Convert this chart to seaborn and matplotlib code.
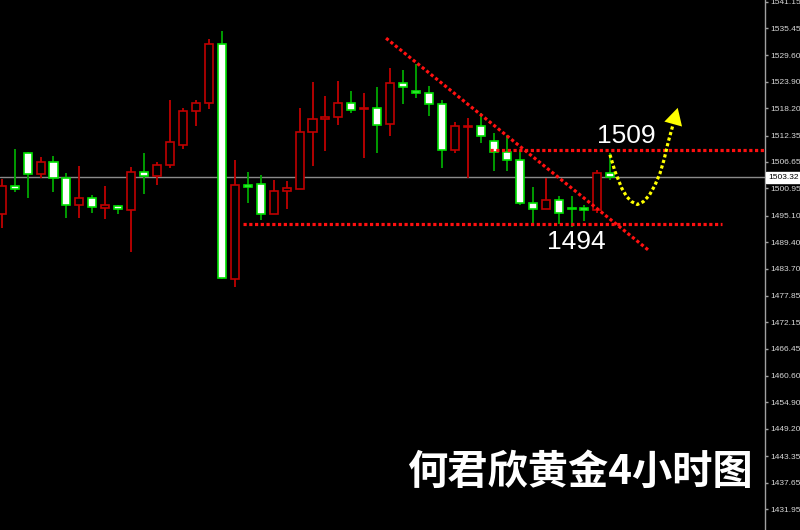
import numpy as np
import pandas as pd
import matplotlib
matplotlib.use("Agg")
import matplotlib.pyplot as plt
import matplotlib.transforms as mtransforms
import seaborn as sns

# 4h gold candles (left to right)
opens = [1495.4, 1501.5, 1508.6, 1504.0, 1506.6, 1503.2, 1497.4, 1498.8, 1496.7, 1497.1,
         1496.4, 1504.4, 1503.6, 1506.1, 1510.3, 1517.6, 1519.3, 1532.0, 1481.4, 1501.6,
         1502.0, 1495.5, 1500.5, 1500.8, 1513.0, 1515.8, 1516.4, 1519.4, 1518.0, 1518.3,
         1514.8, 1523.7, 1522.0, 1521.6, 1519.2, 1509.3, 1514.2, 1514.3, 1511.2, 1508.9,
         1507.0, 1497.8, 1496.6, 1498.4, 1496.8, 1496.8, 1496.3, 1504.2]
highs = [1502.9, 1509.4, 1508.8, 1507.7, 1507.9, 1504.3, 1505.8, 1499.5, 1501.5, 1497.4,
         1505.5, 1508.5, 1506.6, 1520.1, 1518.2, 1520.0, 1533.1, 1534.8, 1507.1, 1504.4,
         1503.9, 1502.7, 1502.5, 1518.2, 1523.9, 1520.8, 1524.1, 1521.9, 1521.5, 1522.7,
         1526.8, 1526.4, 1527.7, 1522.9, 1520.0, 1515.2, 1516.1, 1517.1, 1512.8, 1512.5,
         1509.2, 1501.2, 1503.3, 1499.3, 1499.3, 1497.3, 1504.9, 1508.5]
lows = [1492.5, 1500.2, 1499.0, 1503.3, 1500.2, 1494.6, 1494.7, 1495.7, 1494.4, 1495.5,
        1487.3, 1499.7, 1501.6, 1505.4, 1509.4, 1514.5, 1518.0, 1481.5, 1479.8, 1497.9,
        1494.2, 1495.5, 1496.5, 1500.8, 1505.7, 1509.1, 1514.6, 1517.2, 1507.6, 1508.6,
        1512.2, 1519.1, 1520.5, 1516.5, 1505.4, 1508.5, 1503.3, 1510.8, 1504.8, 1504.8,
        1497.4, 1493.3, 1496.6, 1493.4, 1492.7, 1494.0, 1495.6, 1502.8]
closes = [1501.5, 1500.9, 1504.0, 1506.6, 1503.1, 1497.4, 1498.8, 1496.9, 1497.3, 1496.5,
          1504.4, 1503.6, 1506.1, 1510.9, 1517.6, 1519.3, 1532.0, 1481.6, 1501.6, 1501.3,
          1495.5, 1500.5, 1501.0, 1513.1, 1515.8, 1516.3, 1519.4, 1517.9, 1518.3, 1514.7,
          1523.7, 1522.8, 1521.6, 1519.2, 1509.3, 1514.3, 1514.4, 1512.2, 1508.9, 1507.0,
          1497.8, 1496.6, 1498.5, 1495.7, 1496.6, 1496.4, 1504.2, 1503.32]

price_ticks = [1541.15, 1535.45, 1529.60, 1523.90, 1518.20, 1512.35, 1506.65, 1500.95,
               1495.10, 1489.40, 1483.70, 1477.85, 1472.15, 1466.45, 1460.60, 1454.90,
               1449.20, 1443.35, 1437.65, 1431.95]
last_price = 1503.32

# hand drawn analysis lines (bar index, price)
trend_x = [29.68, 49.93]
trend_y = [1533.3, 1487.7]
resist_x = [37.7, 58.94]
resist_y = [1509.2, 1509.2]
support_x = [18.6, 55.6]
support_y = [1493.3, 1493.3]
curve_x = [46.97, 47.36, 47.88, 48.26, 48.65, 49.08, 49.54, 50.01, 50.45, 50.83, 51.14, 51.47, 51.85]
curve_y = [1508.2, 1504.6, 1501.0, 1499.2, 1498.1, 1497.5, 1498.1, 1499.5, 1501.7, 1504.2, 1507.1, 1511.0, 1514.8]
arrow_tip = (52.2, 1518.3)

df = pd.DataFrame({"open": opens, "high": highs, "low": lows, "close": closes})
df["idx"] = np.arange(len(df))
df["up"] = df["close"] > df["open"]

sns.set_style("dark", rc={"axes.facecolor": "black", "figure.facecolor": "black",
                          "axes.grid": False})
plt.rcParams["font.family"] = ["Liberation Sans", "Noto Sans CJK SC", "DejaVu Sans"]

fig = plt.figure(figsize=(8, 5.3), dpi=100)
ax = fig.add_axes([0, 0, 765 / 800, 1])
ax.set_facecolor("black")

red = "#c00000"
wick_green = "#00a800"
edge_green = "#00e000"

# wicks
ax.vlines(df["idx"], df["low"], df["high"],
          colors=np.where(df["up"], red, wick_green), linewidth=1.3, zorder=2)

# bodies
body_lo = np.minimum(df["open"], df["close"])
body_h = np.maximum(np.abs(df["close"] - df["open"]), 0.25)
ax.bar(df["idx"], body_h, bottom=body_lo, width=0.62,
       color=np.where(df["up"], "black", "white"),
       edgecolor=np.where(df["up"], red, edge_green), linewidth=1.2, zorder=3)

# current price line
ax.axhline(last_price, color="#8a8a8a", linewidth=1, zorder=1)

dots = (0, (1, 0.8))
sns.lineplot(x=trend_x, y=trend_y, color="#ff1010", linewidth=2.3, linestyle=dots, ax=ax, zorder=4)
sns.lineplot(x=resist_x, y=resist_y, color="#ff1010", linewidth=2.3, linestyle=dots, ax=ax, zorder=4)
sns.lineplot(x=support_x, y=support_y, color="#ff1010", linewidth=2.3, linestyle=dots, ax=ax, zorder=4)
sns.lineplot(x=curve_x, y=curve_y, color="#ffff00", linewidth=2.3, linestyle=dots,
             sort=False, estimator=None, ax=ax, zorder=5)
ax.annotate("", xy=arrow_tip, xytext=(curve_x[-1], curve_y[-1]),
            arrowprops=dict(arrowstyle="-|>,head_length=0.55,head_width=0.3", color="#ffff00",
                            lw=0, mutation_scale=22, shrinkA=0, shrinkB=0), zorder=5)

ax.text(48.2, 1512.2, "1509", color="white", fontsize=19, ha="center", va="center")
ax.text(44.35, 1489.4, "1494", color="white", fontsize=19, ha="center", va="center")

ax.set_xlim(-0.13, 58.94)
ax.set_ylim(1427.43, 1541.52)
ax.set_xticks([])

ax.yaxis.tick_right()
ax.set_yticks(price_ticks)
ax.set_yticklabels([f"{v:.2f}" for v in price_ticks])
ax.tick_params(axis="y", length=2, width=1, color="#a0a0a0", labelcolor="#d8d8d8",
               labelsize=6, pad=2)
for side in ["left", "top", "bottom"]:
    ax.spines[side].set_visible(False)
ax.spines["right"].set_color("#a0a0a0")
ax.spines["right"].set_linewidth(1)

trans = mtransforms.blended_transform_factory(ax.transAxes, ax.transData)
ax.text(1.004, last_price, f"{last_price:.2f}", transform=trans, fontsize=6, color="black",
        ha="left", va="center", clip_on=False, zorder=6,
        bbox=dict(boxstyle="square,pad=0.25", facecolor="white", edgecolor="white"))

fig.text(0.725, 0.109, "何君欣黄金4小时图", color="white", fontsize=29, fontweight="bold",
         family=["Noto Sans CJK SC", "DejaVu Sans"], ha="center", va="center")

fig.savefig("out.png", dpi=100, facecolor="black")
